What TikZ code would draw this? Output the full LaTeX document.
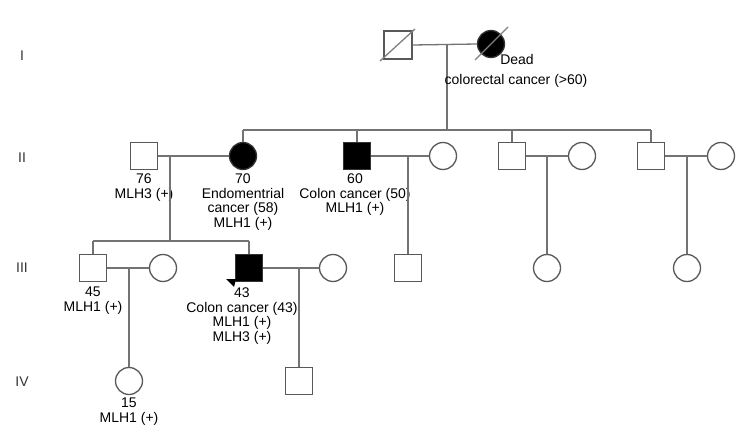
\documentclass[tikz,border=0pt]{standalone}
\usepackage{fontspec}
\setmainfont{Liberation Sans}
\begin{document}
\begin{tikzpicture}[x=1pt,y=-1pt,
  line/.style={draw=black!55,line width=1.3pt},
  male/.style={draw=black!65,line width=1.3pt,minimum size=27pt,inner sep=0pt,rectangle},
  female/.style={draw=black!65,line width=1.3pt,minimum size=27pt,inner sep=0pt,circle},
  aff/.style={fill=black,draw=black!80},
  lbl/.style={inner sep=0pt,align=center,anchor=north,font=\fontsize{14}{14.5}\selectfont},
  gen/.style={inner sep=0pt,font=\fontsize{14}{14}\selectfont,text=black!80},
  slash/.style={draw=black!50,line width=1.3pt}]
\useasboundingbox (0,0) rectangle (753,436);
\fill[white] (0,0) rectangle (753,436);
% generation labels
\node[gen] (gI) at (22,56) {I};
\node[gen] (gII) at (22,158) {II};
\node[gen] (gIII) at (22,268) {III};
\node[gen] (gIV) at (22,382) {IV};
% Generation I
\node[male,minimum size=28pt] (i1) at (398,45) {};
\node[female,aff] (i2) at (491,44) {};
\draw[slash] (380,61) -- (415,29);
\draw[slash] (475,60) -- (508,27);
\draw[line] (i1.east) -- (i2.west);
\coordinate (d1) at (447,44);
\coordinate (s2) at (447,130);
\draw[line] (d1) -- (s2);
\node[lbl] (t1a) at (517,54) {Dead};
\node[lbl] (t1b) at (516,74) {colorectal cancer (>60)};
% Generation II
\node[male] (ii1) at (144,156) {};
\node[female,aff] (ii2) at (243,156) {};
\node[male,aff] (ii3) at (357,156) {};
\node[female] (ii4) at (443,156) {};
\node[male] (ii5) at (512,156) {};
\node[female] (ii6) at (582,156) {};
\node[male] (ii7) at (651,156) {};
\node[female] (ii8) at (721,156) {};
\coordinate (sl) at (243,130);
\coordinate (sr) at (651,130);
\draw[line] (sl) -- (sr);
\draw[line] (sl) -- (ii2.north);
\draw[line] (ii3.north |- sl) -- (ii3.north);
\draw[line] (ii5.north |- sl) -- (ii5.north);
\draw[line] (ii7.north |- sl) -- (ii7.north);
\draw[line] (ii1.east) -- (ii2.west);
\draw[line] (ii3.east) -- (ii4.west);
\draw[line] (ii5.east) -- (ii6.west);
\draw[line] (ii7.east) -- (ii8.west);
\node[lbl] (t76) at (144,174) {76\\MLH3 (+)};
\node[lbl] (t70) at (243,174) {70\\Endomentrial\\cancer (58)\\MLH1 (+)};
\node[lbl] (t60) at (355,174) {60\\Colon cancer (50)\\MLH1 (+)};
% Generation III
\coordinate (c1) at (170,156);
\coordinate (s3) at (170,241);
\draw[line] (c1) -- (s3);
\node[male] (iii1) at (93,268) {};
\node[female] (iii2) at (163,268) {};
\node[male,aff] (iii3) at (249,268) {};
\node[female] (iii4) at (333,268) {};
\node[male] (iii5) at (408,268) {};
\node[female] (iii6) at (547,268) {};
\node[female] (iii7) at (687,268) {};
\draw[line] (iii1.north |- s3) -- (iii3.north |- s3);
\draw[line] (iii1.north |- s3) -- (iii1.north);
\draw[line] (iii3.north |- s3) -- (iii3.north);
\draw[line] (iii1.east) -- (iii2.west);
\draw[line] (iii3.east) -- (iii4.west);
\draw[line] (iii5.north |- ii3.east) -- (iii5.north);
\draw[line] (iii6.north |- ii5.east) -- (iii6.north);
\draw[line] (iii7.north |- ii7.east) -- (iii7.north);
\fill[black] (226,279) -- (236,279) -- (234,287) -- cycle;
\node[lbl] (t45) at (93,287) {45\\MLH1 (+)};
\node[lbl] (t43) at (242,288) {43\\Colon cancer (43)\\MLH1 (+)\\MLH3 (+)};
% Generation IV
\node[female] (iv1) at (129,381) {};
\node[male] (iv2) at (299,381) {};
\draw[line] (iv1.north |- iii1.east) -- (iv1.north);
\draw[line] (iv2.north |- iii3.east) -- (iv2.north);
\node[lbl] (t15) at (129,398) {15\\MLH1 (+)};
\end{tikzpicture}
\end{document}
